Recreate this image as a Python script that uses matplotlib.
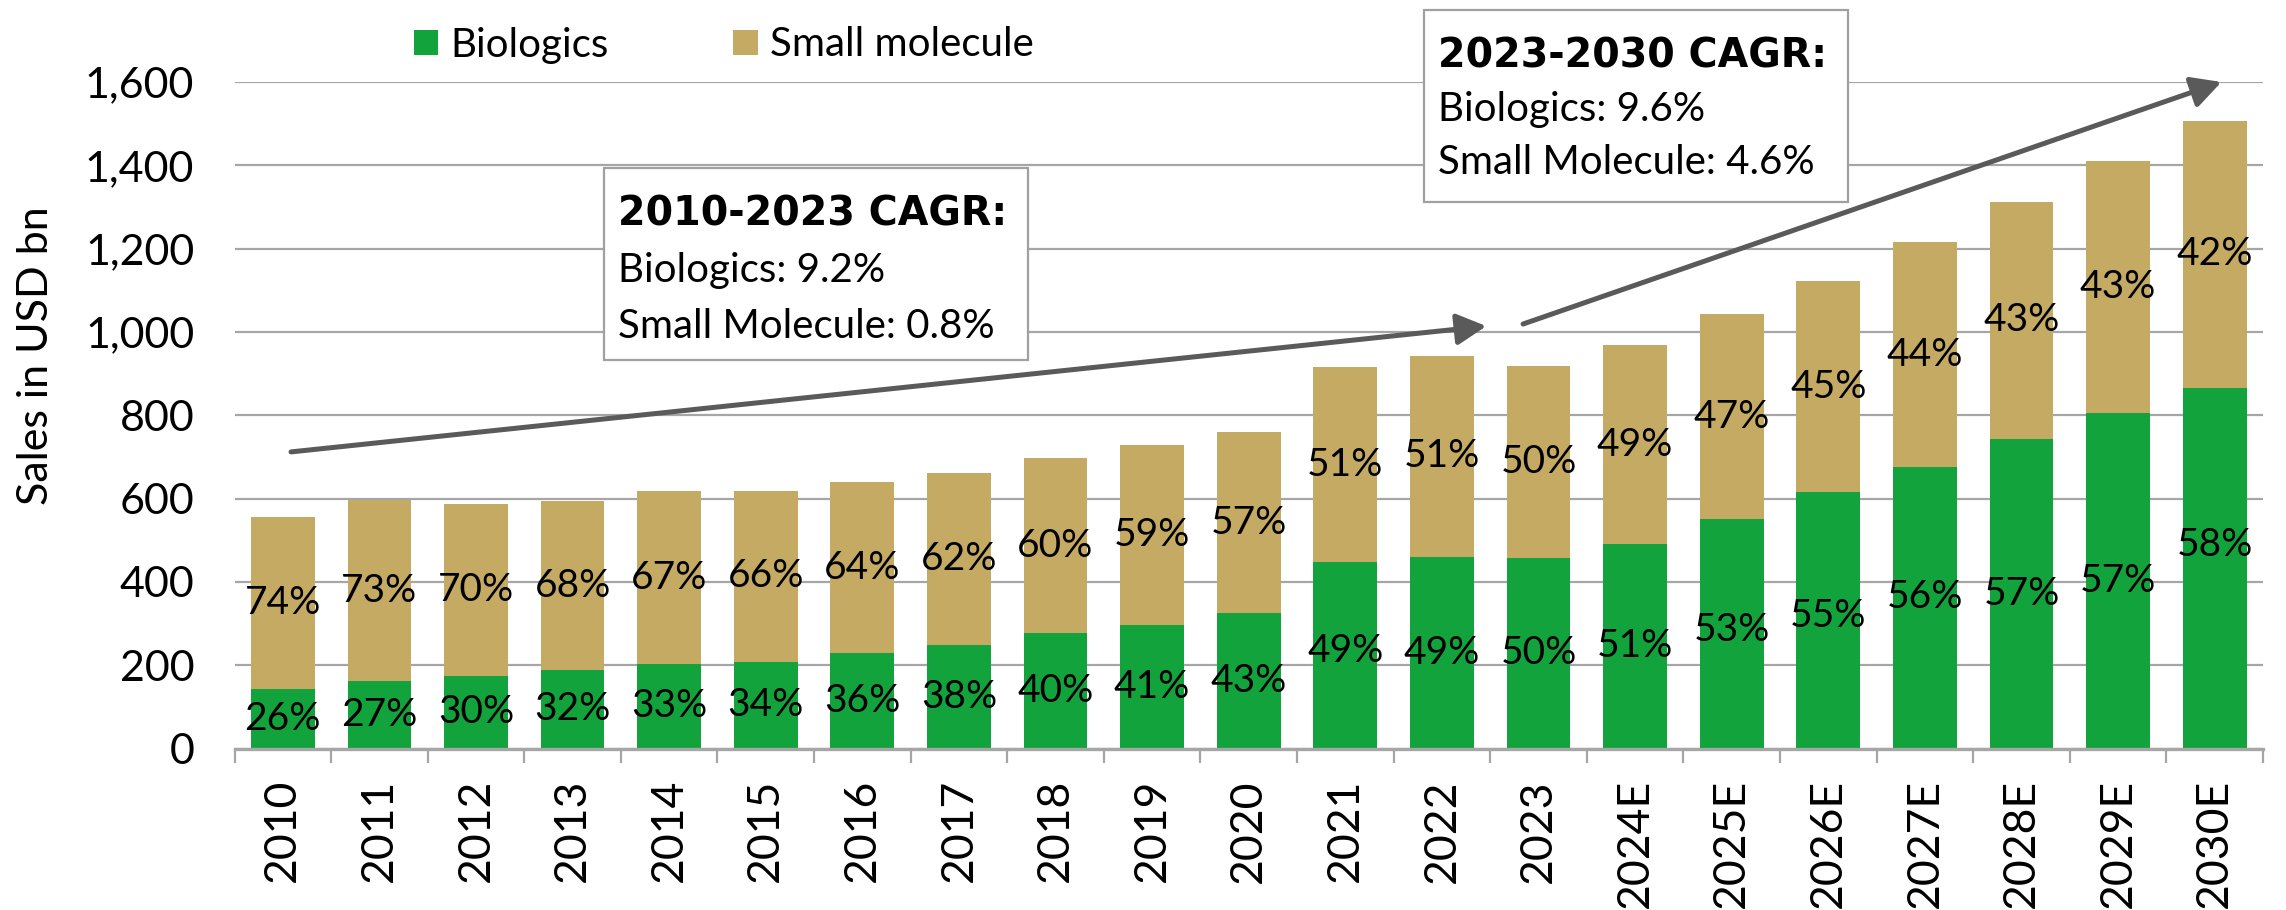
import matplotlib
matplotlib.use("Agg")
import matplotlib.pyplot as plt
from matplotlib.patches import Rectangle, Patch
from matplotlib.ticker import FuncFormatter, FixedLocator
import numpy as np

plt.rcParams['font.family'] = ['Lato', 'DejaVu Sans']

# ---------------- data ----------------
years = ['2010', '2011', '2012', '2013', '2014', '2015', '2016', '2017', '2018',
         '2019', '2020', '2021', '2022', '2023', '2024E', '2025E', '2026E',
         '2027E', '2028E', '2029E', '2030E']
biologics = [142, 161, 174, 188, 203, 208, 229, 248, 277, 296, 325,
             448, 460, 457, 490, 550, 615, 675, 742, 806, 866]
small_molecule = [414, 436, 413, 406, 415, 410, 411, 414, 420, 432, 434,
                  467, 482, 461, 479, 492, 507, 541, 571, 604, 640]
bio_pct = [26, 27, 30, 32, 33, 34, 36, 38, 40, 41, 43, 49, 49, 50, 51, 53, 55, 56, 57, 57, 58]
sm_pct = [74, 73, 70, 68, 67, 66, 64, 62, 60, 59, 57, 51, 51, 50, 49, 47, 45, 44, 43, 43, 42]
bio_label_nudge = [0, 0, 0, 0, 0, 0, 0, 0, 0, 0, 0, 10, 0, 0, 0, 10, 10, 25, 0, 0, 55]
yticks = [0, 200, 400, 600, 800, 1000, 1200, 1400, 1600]

box1_lines = ['2010-2023 CAGR:', 'Biologics: 9.2%', 'Small Molecule: 0.8%']
box2_lines = ['2023-2030 CAGR:', 'Biologics: 9.6%', 'Small Molecule: 4.6%']

GREEN = '#12a33c'
TAN = '#c4aa62'
GRID = '#a6a6a6'
ARROW = '#5a5a5a'

W, H = 2286, 910
fig = plt.figure(figsize=(W / 100, H / 100), dpi=100)

ax_l, ax_r, ax_t, ax_b = 234.5, 2263, 82, 748.5
ax = fig.add_axes([ax_l / W, (H - ax_b) / H, (ax_r - ax_l) / W, (ax_b - ax_t) / H])

x = np.arange(len(years))
bw = 0.66
ax.bar(x, biologics, width=bw, color=GREEN, zorder=2)
ax.bar(x, small_molecule, width=bw, bottom=biologics, color=TAN, zorder=2)

for i in range(len(years)):
    b = biologics[i]
    s = small_molecule[i]
    ax.text(x[i], b / 2 + bio_label_nudge[i], f'{bio_pct[i]}%', ha='center', va='center',
            fontsize=28, color='black', zorder=4)
    ax.text(x[i], b + s / 2, f'{sm_pct[i]}%', ha='center', va='center',
            fontsize=28, color='black', zorder=4)

ax.set_xlim(-0.5, len(years) - 0.5)
ax.set_ylim(0, 1600)
ax.set_yticks(yticks)
ax.yaxis.set_major_formatter(FuncFormatter(lambda v, p: f'{int(v):,}'))
ax.yaxis.grid(True, color=GRID, lw=1.6, zorder=0)
ax.set_axisbelow(True)
for sp in ['top', 'right', 'left']:
    ax.spines[sp].set_visible(False)
ax.spines['bottom'].set_color(GRID)
ax.spines['bottom'].set_linewidth(2.4)
ax.spines['bottom'].set_zorder(3)
ax.tick_params(axis='y', length=0, pad=29, labelsize=31)

ax.xaxis.set_major_locator(FixedLocator(np.arange(-0.5, len(years), 1.0)))
ax.xaxis.set_minor_locator(FixedLocator(x))
ax.set_xticklabels([], minor=False)
ax.set_xticks(x, years, minor=True, rotation=90)
ax.tick_params(axis='x', which='major', length=10, width=1.6, color=GRID, direction='out')
ax.tick_params(axis='x', which='minor', length=0, pad=22, labelsize=32)

ax.set_ylabel('Sales in USD bn', fontsize=31)
ax.yaxis.set_label_coords((55 - ax_l) / (ax_r - ax_l), 0.59)

# arrows
arrow_kw = dict(arrowstyle='-|>,head_length=18,head_width=9.5', color=ARROW, lw=3.6,
                shrinkA=0, shrinkB=0, mutation_scale=1)
ax.annotate('', xy=(12.46, 1014), xytext=(0.085, 712), arrowprops=arrow_kw, zorder=5)
ax.annotate('', xy=(20.07, 1600), xytext=(12.84, 1019), arrowprops=arrow_kw, zorder=5)


def fig_box(x0, y0, x1, y1, tx, baselines, lines):
    r = Rectangle((x0 / W, 1 - y1 / H), (x1 - x0) / W, (y1 - y0) / H,
                  transform=fig.transFigure, facecolor='white', edgecolor='#a0a0a0',
                  lw=1.6, zorder=10)
    fig.add_artist(r)
    for k, (bl, txt) in enumerate(zip(baselines, lines)):
        if k == 0:
            fig.text(tx / W, 1 - bl / H, txt, ha='left', va='baseline', fontsize=28.5,
                     fontweight='bold', family=['DejaVu Sans'], zorder=11)
        else:
            fig.text(tx / W, 1 - bl / H, txt, ha='left', va='baseline', fontsize=29,
                     zorder=11)


fig_box(604, 168, 1028, 360, 618, [225, 282, 338], box1_lines)
fig_box(1424, 10, 1848, 202, 1438, [67, 121, 174], box2_lines)

handles = [Patch(facecolor=GREEN), Patch(facecolor=TAN)]
fig.legend(handles, ['Biologics', 'Small molecule'], loc='center left',
           bbox_to_anchor=(414 / W, 1 - 45 / H), ncol=2, frameon=False, fontsize=29,
           handlelength=0.6, handleheight=0.6, handletextpad=0.3, columnspacing=3.1,
           borderpad=0, borderaxespad=0)

fig.savefig('out.png', dpi=100)
